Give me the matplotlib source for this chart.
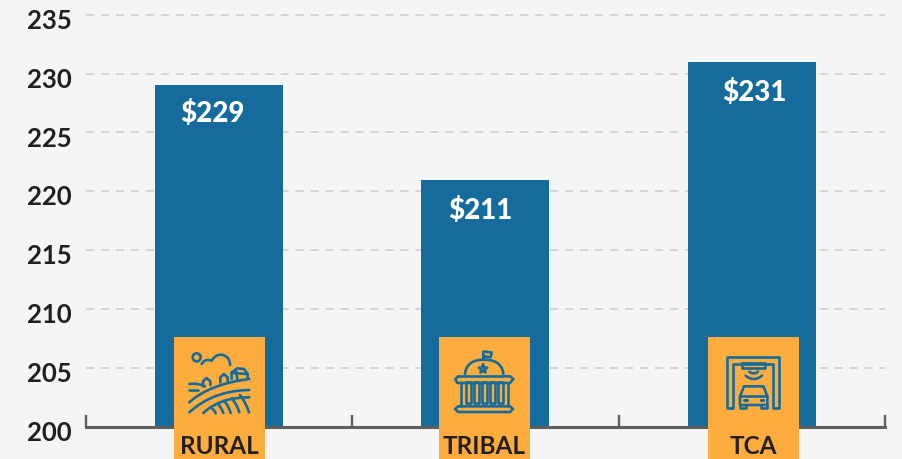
import numpy as np
import matplotlib
matplotlib.use('Agg')
import matplotlib.pyplot as plt
from matplotlib.patches import Rectangle, Circle
from matplotlib.transforms import ScaledTranslation

categories = ['RURAL', 'TRIBAL', 'TCA']
bar_heights = [229, 221, 231]
value_labels = ['$229', '$211', '$231']  # middle label differs from its bar in the original
y_ticks = [200, 205, 210, 215, 220, 225, 230, 235]

BG = '#f4f5f7'
BLUE = '#156b9b'
ORANGE = '#fdad3e'
DARK = '#231f20'
AXIS = '#5f5e5e'
W, H = 902, 460

plt.rcParams['font.family'] = ['Lato', 'DejaVu Sans']

fig = plt.figure(figsize=(W / 100, H / 100), dpi=100, facecolor=BG)
ax = fig.add_axes([85.6 / W, (H - 427.7) / H, 799.5 / W, 412 / H], facecolor=BG)

x = np.arange(len(categories))
ax.bar(x, bar_heights, width=0.48, color=BLUE, zorder=3)
ax.set_xlim(-0.5, 2.5)
ax.set_ylim(200, 235)

for s in ['top', 'left', 'right']:
    ax.spines[s].set_visible(False)
ax.spines['bottom'].set_color(AXIS)
ax.spines['bottom'].set_linewidth(2.2)
ax.spines['bottom'].set_zorder(4)

ax.set_xticks([-0.5, 0.5, 1.5, 2.5], labels=[])
ax.tick_params(axis='x', direction='in', length=8.6, width=1.7, color=AXIS)
ax.set_yticks(y_ticks)
ax.tick_params(axis='y', length=0, pad=10, labelsize=18.5, labelcolor=DARK)
down = ScaledTranslation(0, -2.3 / 72, fig.dpi_scale_trans)
for lab in ax.get_yticklabels():
    lab.set_fontweight('bold')
    lab.set_transform(lab.get_transform() + down)
ax.yaxis.grid(True, color='#cfccca', lw=1.1, linestyle=(0, (5.3, 4.5)), zorder=1)
for line in ax.get_ygridlines():
    line.set_clip_on(False)
ax.set_axisbelow(True)

label_dx = [-6, -5, 3]
label_dy = [-27, -30, -30]
for xi, h, txt, dx, dy in zip(x, bar_heights, value_labels, label_dx, label_dy):
    ax.annotate(txt, (xi, h), xytext=(dx * 0.72, dy * 0.72), textcoords='offset points',
                ha='center', va='center', color='white', fontsize=20,
                fontweight='black', zorder=5)

# overlay in pixel coordinates for the badges and their icons
ov = fig.add_axes([0, 0, 1, 1], facecolor='none')
ov.set_xlim(0, W)
ov.set_ylim(H, 0)
ov.axis('off')

box_left = [174, 439, 708]
for left, name in zip(box_left, categories):
    ov.add_patch(Rectangle((left, 338), 91, 122, facecolor=ORANGE, edgecolor='none'))
    ov.text(left + 45, 447, name, ha='center', va='center', color=DARK,
            fontsize=17.5, fontweight='bold')


def bez(pts, n=30):
    # quadratic bezier through control points given in zoomed crop pixels
    p = np.array(pts, dtype=float)
    t = np.linspace(0, 1, n)[:, None]
    return (1 - t) ** 2 * p[0] + 2 * t * (1 - t) * p[1] + t ** 2 * p[2]


def draw(pts, ox, oy, lw=1.9):
    p = np.array(pts, dtype=float) / 3
    ov.plot(p[:, 0] + ox, p[:, 1] + oy, color=BLUE, lw=lw,
            solid_capstyle='round', solid_joinstyle='round')


def curve(pts, ox, oy, lw=1.9):
    draw(bez(pts), ox, oy, lw)


def circle(cx, cy, r, ox, oy, lw=1.9):
    ov.add_patch(Circle((cx / 3 + ox, cy / 3 + oy), r / 3, fill=False, edgecolor=BLUE, lw=lw))


# rural
ox, oy = 150, 330
circle(140, 85, 12, ox, oy)
draw(np.vstack([bez([(155, 105), (165, 88), (185, 95)]), bez([(185, 95), (205, 65), (232, 85)]),
                bez([(232, 85), (240, 95), (240, 108)])]), ox, oy)
for hx, hy in [(170, 160), (222, 148)]:
    draw([(hx - 11, hy + 12), (hx - 11, hy - 3), (hx, hy - 13), (hx + 11, hy - 3), (hx + 11, hy + 8)], ox, oy)
draw([(245, 150), (245, 130), (262, 118), (282, 120), (293, 135), (293, 150)], ox, oy)
draw([(258, 122), (262, 150)], ox, oy)
draw([(245, 132), (293, 135)], ox, oy)
curve([(118, 165), (145, 162), (165, 172)], ox, oy)
draw([(118, 184), (145, 184)], ox, oy)
curve([(118, 220), (180, 165), (298, 150)], ox, oy)
curve([(118, 250), (190, 185), (298, 183)], ox, oy)
curve([(160, 252), (210, 205), (298, 205)], ox, oy)
curve([(185, 238), (193, 243), (197, 253)], ox, oy)
curve([(205, 226), (215, 238), (220, 252)], ox, oy)
curve([(222, 215), (235, 230), (242, 252)], ox, oy)
curve([(245, 208), (260, 225), (268, 250)], ox, oy)
curve([(270, 198), (287, 220), (297, 250)], ox, oy)

# tribal
ox, oy = 420, 330
draw([(190, 90), (190, 68), (215, 70), (212, 85), (192, 82)], ox, oy)
curve([(135, 135), (140, 92), (192, 92)], ox, oy)
curve([(192, 92), (245, 92), (250, 135)], ox, oy)
draw([(138, 142), (245, 142)], ox, oy)
star = np.array([[189 + 13 * np.sin(a), 120 - 13 * np.cos(a)] if i % 2 == 0
                 else [189 + 5.5 * np.sin(a), 120 - 5.5 * np.cos(a)]
                 for i, a in enumerate(np.linspace(0, 2 * np.pi, 11))])
draw(star, ox, oy)
draw([(115, 142), (106, 150), (112, 162), (270, 162), (280, 150), (270, 142), (245, 142)], ox, oy)
draw([(115, 142), (138, 142)], ox, oy)
for bx in [137, 161, 185, 209, 233]:
    draw([(bx, 160), (bx, 222), (bx + 15, 222), (bx + 15, 160), (bx, 160)], ox, oy)
draw([(122, 165), (122, 232)], ox, oy)
draw([(263, 165), (263, 232)], ox, oy)
draw([(115, 232), (105, 240), (115, 249), (270, 249), (279, 240), (270, 232), (115, 232)], ox, oy)

# tca
ox, oy = 690, 330
draw([(122, 238), (112, 238), (112, 85), (268, 85), (268, 238), (250, 238), (250, 105), (130, 105), (130, 238), (122, 238)], ox, oy)
draw([(155, 102), (225, 102), (225, 118), (155, 118), (155, 102)], ox, oy)
curve([(178, 128), (191, 138), (204, 128)], ox, oy)
curve([(167, 140), (191, 160), (216, 140)], ox, oy)
draw([(150, 202), (162, 172), (220, 172), (232, 202), (232, 228), (150, 228), (150, 202)], ox, oy)
draw([(150, 202), (232, 202)], ox, oy)
draw([(150, 228), (150, 238), (168, 238), (168, 228)], ox, oy)
draw([(214, 228), (214, 238), (232, 238), (232, 228)], ox, oy)
draw([(163, 213), (170, 213)], ox, oy, lw=2.2)
draw([(212, 213), (219, 213)], ox, oy, lw=2.2)

fig.savefig('out.png', dpi=100, facecolor=BG)
